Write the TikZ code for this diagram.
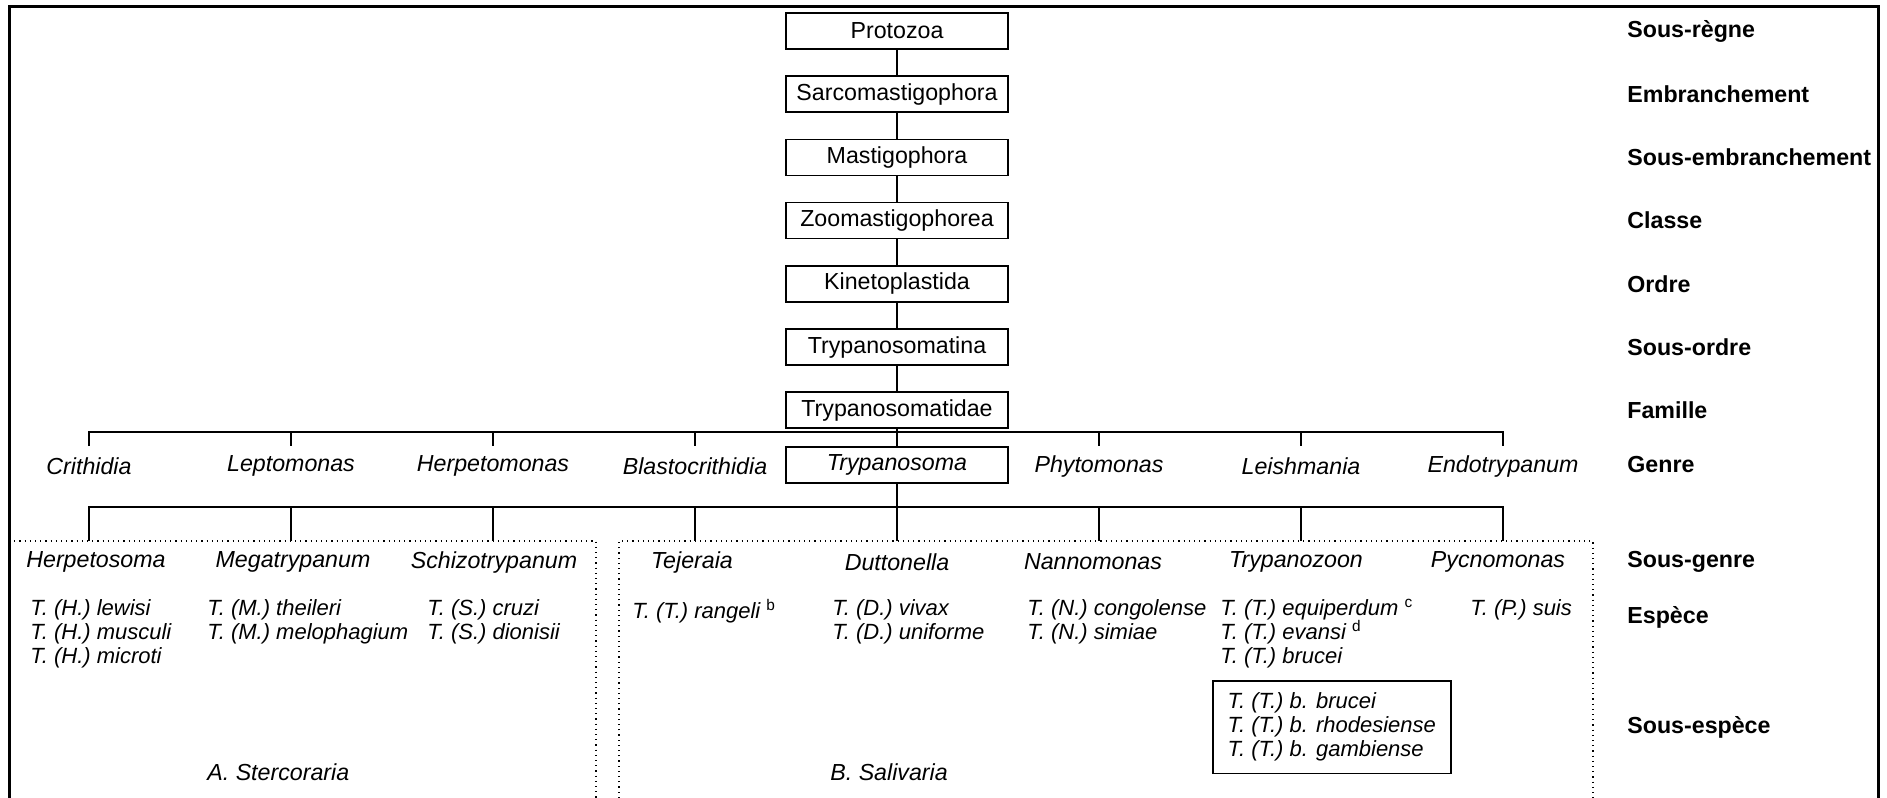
\documentclass[tikz,border=0pt]{standalone}
\usepackage{fontspec}
\setmainfont{Liberation Sans}
\usetikzlibrary{positioning}

\begin{document}
\begin{tikzpicture}[
  x=0.5pt, y=-0.5pt,
  font=\fontsize{11.6}{14}\selectfont,
  tbox/.style={draw, line width=0.8pt, minimum width=111pt, minimum height=18pt, inner sep=0pt},
  genus/.style={font=\fontsize{11.6}{14}\selectfont\itshape, inner sep=0pt},
  rank/.style={font=\fontsize{11.6}{14}\selectfont\bfseries, anchor=west, inner sep=0pt},
  spec/.style={font=\fontsize{11}{12}\selectfont\itshape, anchor=north west, align=left, inner sep=0pt},
  tree/.style={line width=1.2pt},
  grp/.style={line width=0.6pt, dotted}
]
\useasboundingbox (0,0) rectangle (1887,798);
\draw[line width=1.5pt] (9,798) -- (9,6) -- (1878,6) -- (1878,798);

\node[tbox] (prot) at (897,31) {Protozoa};
\node[tbox, below=12.8pt of prot]   (sarco)  {Sarcomastigophora};
\node[tbox, below=12.8pt of sarco]  (mast)   {Mastigophora};
\node[tbox, below=12.8pt of mast]   (zoomas) {Zoomastigophorea};
\node[tbox, below=12.8pt of zoomas] (kine)   {Kinetoplastida};
\node[tbox, below=12.8pt of kine]   (tina)   {Trypanosomatina};
\node[tbox, below=12.8pt of tina]   (tdae)   {Trypanosomatidae};
\foreach \a/\b in {prot/sarco, sarco/mast, mast/zoomas, zoomas/kine, kine/tina, tina/tdae}
  \draw[tree] (\a) -- (\b);

\node[tbox, font=\fontsize{11.6}{14}\selectfont\itshape] (tsoma) at (897,465) {Trypanosoma};
\foreach \n/\t [count=\i] in {crith/Crithidia, lepto/Leptomonas, herpm/Herpetomonas, blast/Blastocrithidia}
  \node[genus] (\n) at ({89+202*(\i-1)},466) {\t};
\foreach \n/\t [count=\i] in {phyto/Phytomonas, leish/Leishmania, endo/Endotrypanum}
  \node[genus] (\n) at ({897+202*\i},466) {\t};

\coordinate (gbar)  at (0,432);
\coordinate (gfoot) at (0,446);
\coordinate (sbar)  at (0,507);
\coordinate (sfoot) at (0,541);
\draw[tree] (crith |- gfoot) -- (crith |- gbar) -- (endo |- gbar) -- (endo |- gfoot);
\draw[tree] (crith |- sfoot) -- (crith |- sbar) -- (endo |- sbar) -- (endo |- sfoot);
\foreach \n in {lepto, herpm, blast, phyto, leish} {
  \draw[tree] (\n |- gbar) -- (\n |- gfoot);
  \draw[tree] (\n |- sbar) -- (\n |- sfoot);
}
\draw[tree] (tdae) -- (tsoma);
\draw[tree] (tsoma) -- (tsoma |- sfoot);

\draw[grp] (9,541) -- (596,541) -- (596,798);
\draw[grp] (619,798) -- (619,541) -- (1593,541) -- (1593,798);

\node[genus] (herps) at (96,562)   {Herpetosoma};
\node[genus] (mega)  at (293,562)  {Megatrypanum};
\node[genus] (schiz) at (494,562)  {Schizotrypanum};
\node[genus] (tejer) at (692,562)  {Tejeraia};
\node[genus] (dutt)  at (897,562)  {Duttonella};
\node[genus] (nanno) at (1093,562) {Nannomonas};
\node[genus] (tzoon) at (1296,562) {Trypanozoon};
\node[genus] (pycno) at (1498,562) {Pycnomonas};

\node[spec] (herpssp)  at (30,599)   {T. (H.) lewisi\\T. (H.) musculi\\T. (H.) microti};
\node[spec] (megasp)   at (207,599)  {T. (M.) theileri\\T. (M.) melophagium};
\node[spec] (schizsp)  at (427,599)  {T. (S.) cruzi\\T. (S.) dionisii};
\node[spec] (tejersp)  at (632,599)  {T. (T.) rangeli\ \textsuperscript{\upshape b}};
\node[spec] (duttsp)   at (832,599)  {T. (D.) vivax\\T. (D.) uniforme};
\node[spec] (nannosp)  at (1027,599) {T. (N.) congolense\\T. (N.) simiae};
\node[spec] (tzoonsp)  at (1220,599) {T. (T.) equiperdum\ \textsuperscript{\upshape c}\\T. (T.) evansi\ \textsuperscript{\upshape d}\\T. (T.) brucei};
\node[spec] (pycnosp)  at (1470,599) {T. (P.) suis};
\node[spec, draw, line width=0.8pt, inner xsep=7pt, inner ysep=6pt, minimum width=119pt] (sspbox) at (1212,680)
  {T. (T.) b. brucei\\T. (T.) b. rhodesiense\\T. (T.) b. gambiense};

\node[genus, anchor=west] (stercor) at (207,772) {A. Stercoraria};
\node[genus, anchor=west] (saliv)   at (830,772) {B. Salivaria};

\coordinate (rankx) at (1627,0);
\node[rank] at (rankx |- prot)   {Sous-règne};
\node[rank] at (rankx |- sarco)  {Embranchement};
\node[rank] at (rankx |- mast)   {Sous-embranchement};
\node[rank] at (rankx |- zoomas) {Classe};
\node[rank] at (rankx |- kine)   {Ordre};
\node[rank] at (rankx |- tina)   {Sous-ordre};
\node[rank] at (rankx |- tdae)   {Famille};
\node[rank] at (rankx |- tsoma)  {Genre};
\node[rank] at (rankx |- pycno)  {Sous-genre};
\node[rank] at (1627,617)        {Espèce};
\node[rank] at (rankx |- sspbox) {Sous-espèce};
\end{tikzpicture}
\end{document}
